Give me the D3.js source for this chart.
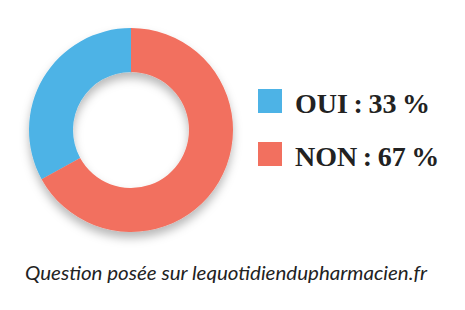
<!DOCTYPE html>
<html>
<head>
<meta charset="utf-8">
<script src="https://cdn.jsdelivr.net/npm/d3@7"></script>
<style>
  body { margin: 0; background: #fff; }
</style>
</head>
<body>
<script>
// donnees du sondage
var labels = ["OUI", "NON"];
var values = [33, 67];
var colors = ["#4db3e6", "#f2705f"];
var caption = "Question posée sur lequotidiendupharmacien.fr";

var width = 465, height = 310;
var cx = 131, cy = 130, outerR = 102, innerR = 58;

var svg = d3.select("body").append("svg")
    .attr("width", width)
    .attr("height", height);

// ombre sous l'anneau
var defs = svg.append("defs");
var filter = defs.append("filter")
    .attr("id", "shadow")
    .attr("x", "-30%").attr("y", "-30%")
    .attr("width", "160%").attr("height", "160%");
filter.append("feDropShadow")
    .attr("dx", 0).attr("dy", 6)
    .attr("stdDeviation", 5)
    .attr("flood-color", "#000")
    .attr("flood-opacity", 0.28);

var total = d3.sum(values);
var pie = d3.pie()
    .sort(null)
    .startAngle(-2 * Math.PI * values[0] / total)
    .endAngle(2 * Math.PI * (1 - values[0] / total));

var arc = d3.arc().innerRadius(innerR).outerRadius(outerR);

var g = svg.append("g")
    .attr("transform", "translate(" + cx + "," + cy + ")")
    .attr("filter", "url(#shadow)");

g.selectAll("path")
    .data(pie(values))
    .enter().append("path")
    .attr("d", arc)
    .attr("fill", function(d, i) { return colors[i]; });

// legende
var legend = svg.append("g")
    .selectAll("g")
    .data(labels)
    .enter().append("g")
    .attr("transform", function(d, i) { return "translate(258," + (89 + i * 53) + ")"; });

legend.append("rect")
    .attr("width", 24)
    .attr("height", 24)
    .attr("fill", function(d, i) { return colors[i]; });

legend.append("text")
    .attr("x", 37)
    .attr("y", 24)
    .attr("font-family", "'Liberation Serif', serif")
    .attr("font-weight", "bold")
    .attr("font-size", 28)
    .attr("fill", "#222")
    .text(function(d, i) { return d + "\u2009:\u2009" + values[i] + "\u2009%"; });

svg.append("text")
    .attr("x", 25)
    .attr("y", 280)
    .attr("font-family", "Lato, sans-serif")
    .attr("font-style", "italic")
    .attr("font-size", 19)
    .attr("fill", "#222")
    .attr("textLength", 402)
    .attr("lengthAdjust", "spacingAndGlyphs")
    .text(caption);
</script>
</body>
</html>
